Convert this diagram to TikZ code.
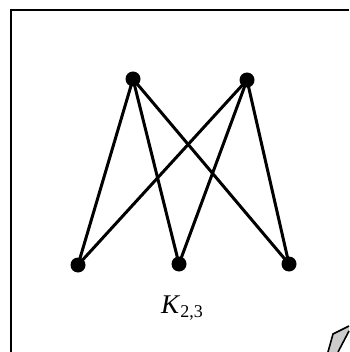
\documentclass[tikz,border=0pt]{standalone}
\usepackage{fontspec}
\setmainfont{Liberation Serif}
\usetikzlibrary{positioning}

\begin{document}
\begin{tikzpicture}[x=1pt,y=-1pt]
  \tikzset{vtx/.style={circle,fill=black,inner sep=0pt,minimum size=15pt},
           edge/.style={line width=3pt}}
  \useasboundingbox (0,0) rectangle (349,352);
  % frame
  \draw[line width=2pt] (11,352) -- (11,10) -- (349,10);
  % vertices
  \node[vtx] (a1) at (133,79) {};
  \node[vtx] (a2) at (247,80) {};
  \node[vtx] (b1) at (78,265) {};
  \node[vtx] (b2) at (179,264) {};
  \node[vtx] (b3) at (289,264) {};
  % edges
  \foreach \u in {a1,a2}
    \foreach \v in {b1,b2,b3}
      \draw[edge] (\u.center) -- (\v.center);
  % label
  \node (lbl) at (182,308) {\fontsize{27}{27}\selectfont\textit{K}\raisebox{-0.35ex}{\fontsize{18}{18}\selectfont 2,3}};
  % corner curl
  \fill[gray!40] (328,352) -- (333,334) -- (349,326) -- (349,332) -- (338,352) -- cycle;
  \draw[line width=1.6pt] (328,352) -- (333,334) -- (349,326);
  \draw[line width=1.6pt] (338,352) -- (349,331);
\end{tikzpicture}
\end{document}
